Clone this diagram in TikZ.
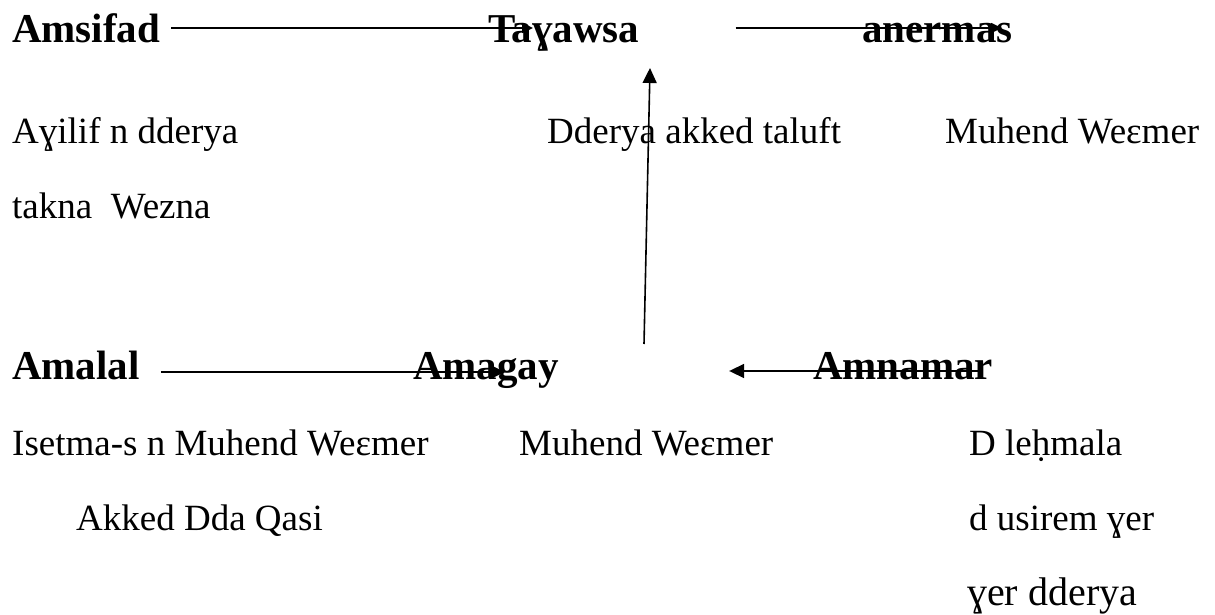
\documentclass[tikz,border=0pt]{standalone}
\usepackage{fontspec}
\setmainfont{Liberation Serif}
\usetikzlibrary{arrows.meta}

\tikzset{
    zi/.style={anchor=base west, inner sep=0pt, font=\fontsize{37}{40}\selectfont},
    cu/.style={anchor=base west, inner sep=0pt, font=\fontsize{41}{44}\selectfont\bfseries},
    jt/.style={-{Triangle[length=15pt,width=14pt]}, line width=1.6pt},
    jtx/.style={-{Triangle[length=11pt,width=10pt]}, line width=1.6pt},
}

\begin{document}
\begin{tikzpicture}[x=1pt, y=-1pt]
        \useasboundingbox (0, 0) rectangle (1215, 615);
        % 第一行标题
        \node[cu] (amsifad) at (12, 43) {Amsifad};
        \node[cu] (tayawsa) at (488, 43) {Taɣawsa};
        \node[cu] (anermas) at (862, 43) {anermas};
        % 第一行说明
        \node[zi] (ayilif) at (12, 143) {Aɣilif n dderya};
        \node[zi] (takna) at (12, 218) {takna\ \ Wezna};
        \node[zi] (dderya) at (547, 143) {Dderya akked taluft};
        \node[zi] (muhend1) at (945, 143) {Muhend Weɛmer};
        % 第二行标题
        \node[cu] (amalal) at (12, 379) {Amalal};
        \node[cu] (amagay) at (413, 379) {Amagay};
        \node[cu] (amnamar) at (813, 379) {Amnamar};
        % 第二行说明
        \node[zi] (isetma) at (12, 455) {Isetma-s n Muhend Weɛmer};
        \node[zi] (akked) at (76, 530) {Akked Dda Qasi};
        \node[zi] (muhend2) at (519, 455) {Muhend Weɛmer};
        \node[zi] (lehmala) at (969, 455) {D leḥmala};
        \node[zi] (usirem) at (969, 530) {d usirem ɣer};
        \node[zi, font=\fontsize{40}{44}\selectfont] (ger) at (967, 605) {ɣer dderya};
        % 箭头
        \draw[jtx] ([xshift=11pt, yshift=15pt]amsifad.base east) -- ([xshift=45pt, yshift=15pt]tayawsa.base west);
        \draw[jtx] ([xshift=96pt, yshift=15pt]tayawsa.base east) -- ([xshift=140pt, yshift=15pt]anermas.base west);
        \draw[jt] ([xshift=21pt, yshift=7pt]amalal.base east) -- ([xshift=92pt, yshift=7pt]amagay.base west);
        \draw[jt] ([xshift=-12pt, yshift=8pt]amnamar.base east) -- ([xshift=170pt, yshift=8pt]amagay.base east);
        % 竖直箭头
        \coordinate (dibas) at (644, 344);
        \coordinate (dinig) at (650, 68);
        \draw[jt] (dibas) -- (dinig);
    \end{tikzpicture}
\end{document}
